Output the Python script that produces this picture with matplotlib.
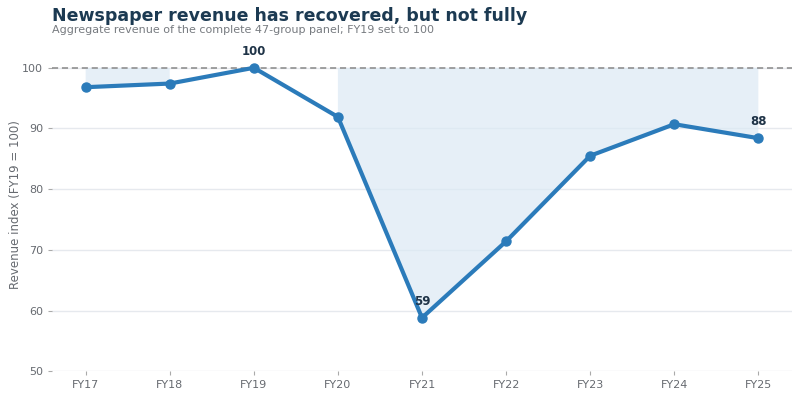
import matplotlib
matplotlib.use("Agg")
import matplotlib.pyplot as plt
import numpy as np

years = ["FY17", "FY18", "FY19", "FY20", "FY21", "FY22", "FY23", "FY24", "FY25"]
revenue_index = [96.8, 97.4, 100.0, 91.9, 58.8, 71.4, 85.5, 90.7, 88.4]
labelled = {"FY19": "100", "FY21": "59", "FY25": "88"}

plt.rcParams['font.family'] = ['DejaVu Sans']
fig = plt.figure(figsize=(8.0, 4.07), dpi=100)
ax = fig.add_axes([0.065, 0.088, 0.925, 0.82])

x = np.arange(len(years))
y = np.array(revenue_index)
line_color = "#2b7bba"

ax.fill_between(x, y, 100, where=y < 100, color="#dce9f5", alpha=0.7, linewidth=0, zorder=1)
ax.axhline(100, color="#888888", linestyle=(0, (4, 2.5)), linewidth=1.1, zorder=2)
ax.plot(x, y, color=line_color, linewidth=3, marker="o", markersize=6.5, zorder=3)

for i, yr in enumerate(years):
    if yr in labelled:
        ax.annotate(labelled[yr], (x[i], y[i]), xytext=(0, 7), textcoords="offset points",
                    ha="center", va="bottom", fontsize=8.5, fontweight="bold", color="#1f3347", zorder=4)

ax.set_xlim(-0.4, 8.4)
ax.set_ylim(50, 105)
ax.set_yticks([50, 60, 70, 80, 90, 100])
ax.set_xticks(x)
ax.set_xticklabels(years)
ax.grid(axis="y", color="#e6e9ee", linewidth=1)
ax.set_axisbelow(True)
for s in ax.spines.values():
    s.set_visible(False)
ax.tick_params(axis="both", colors="#aaaaaa", labelcolor="#666a70", labelsize=8, length=3)
ax.set_ylabel("Revenue index (FY19 = 100)", fontsize=8.5, color="#666a70")
ax.yaxis.set_label_coords(-0.04, 0.5)

fig.text(0.065, 0.938, "Newspaper revenue has recovered, but not fully", fontsize=12.5,
         fontweight="bold", color="#1c3a52", ha="left", va="bottom")
fig.text(0.065, 0.915, "Aggregate revenue of the complete 47-group panel; FY19 set to 100", fontsize=8,
         color="#777b80", ha="left", va="bottom")

fig.savefig("out.png", dpi=100)
